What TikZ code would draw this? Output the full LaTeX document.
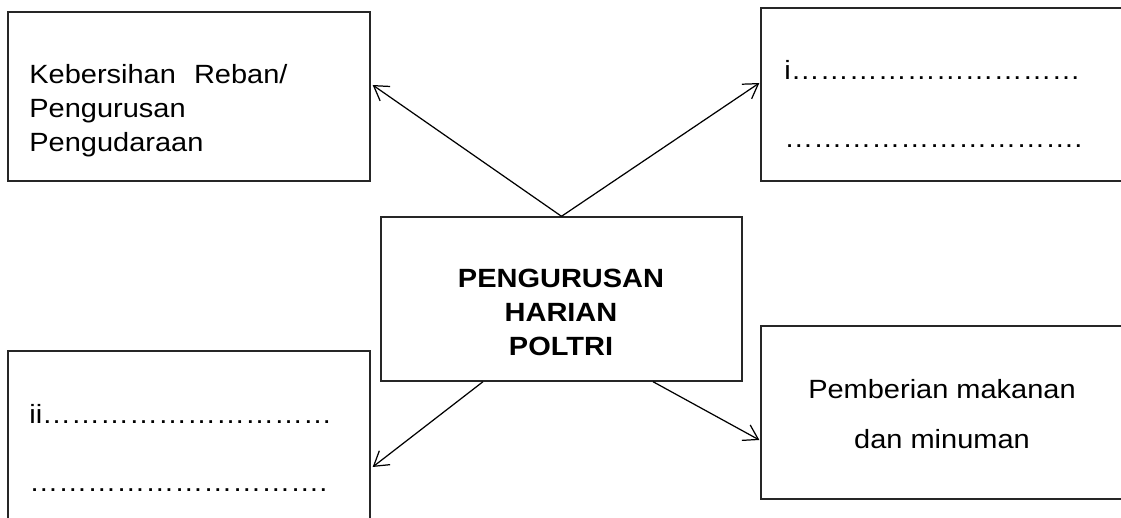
\documentclass[tikz,border=0pt]{standalone}
\usepackage{fontspec}
\setmainfont{Liberation Sans}[FakeStretch=1.1]
\usetikzlibrary{arrows.meta, calc}
\tikzstyle{arrow} = [line width=0.7pt, -{Straight Barb[length=8pt,width=10pt]}]
\tikzstyle{panel} = [rectangle, draw=black!85, line width=0.8pt, inner sep=0pt]
\tikzstyle{words} = [inner sep=0pt, font=\fontsize{15}{19.3}\selectfont]
\newcommand{\dotrow}[1]{\foreach \k in {1,...,#1}{…}}

\begin{document}
\begin{tikzpicture}[x=0.02cm, y=-0.02cm]
    \useasboundingbox (0,0) rectangle (1121,517);
    \clip (0,0) rectangle (1121,517);

    % Boxes
    \node[panel, minimum width=7.24cm, minimum height=3.38cm] (kebersihan) at (189,96.5) {};
    \node[panel, minimum width=7.58cm, minimum height=3.46cm] (itemi) at (950.5,94.5) {};
    \node[panel, minimum width=7.22cm, minimum height=3.28cm] (pusat) at (561.5,299) {};
    \node[panel, minimum width=7.24cm, minimum height=3.78cm] (itemii) at (189,445.5) {};
    \node[panel, minimum width=7.58cm, minimum height=3.46cm] (makanan) at (950.5,412.5) {};

    % Texts
    \node[words, anchor=north west, align=left] (kebersihantext) at (29,64)
        {Kebersihan\hspace{0.2cm} Reban/\\Pengurusan\\Pengudaraan};
    \node[words, anchor=north west, align=left, font=\fontsize{15}{38.6}\selectfont] (itemitext) at (784,60)
        {i\dotrow{10}\\\dotrow{10}.};
    \node[words, anchor=north, align=center, font=\fontsize{15}{19.3}\selectfont\bfseries] (pusattext) at (561,269)
        {PENGURUSAN\\HARIAN\\POLTRI};
    \node[words, anchor=north west, align=left, font=\fontsize{15}{38.6}\selectfont] (itemiitext) at (29,404)
        {ii\dotrow{10}\\\dotrow{10}.};
    \node[words, anchor=north, align=center, font=\fontsize{15}{28.4}\selectfont] (makanantext) at (942,379)
        {Pemberian makanan\\dan minuman};

    % Links
    \draw[arrow] (pusat.north) -- ($(kebersihan.east)+(2,-11.5)$);
    \draw[arrow] (pusat.north) -- ($(itemi.west)+(-1,-11.5)$);
    \draw[arrow] ($(pusat.south)+(-78.5,0)$) -- ($(itemii.east)+(2,21.5)$);
    \draw[arrow] ($(pusat.south)+(91.5,0)$) -- ($(makanan.west)+(-1,27.5)$);

\end{tikzpicture}
\end{document}
